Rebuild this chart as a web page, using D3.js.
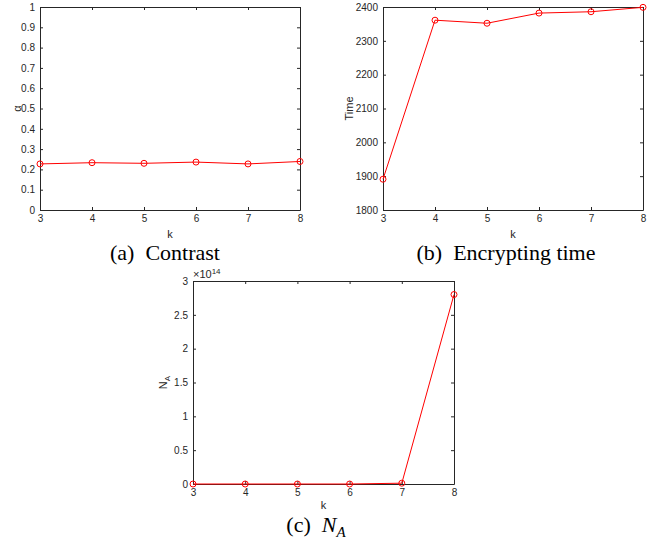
<!DOCTYPE html>
<html>
<head>
<meta charset="utf-8">
<script src="https://cdn.jsdelivr.net/npm/d3@7"></script>
<style>
  body { margin: 0; background: #fff; }
  .tick text { font-family: "Liberation Sans", Arial, sans-serif; font-size: 10px; fill: #262626; }
  .caption { font-family: "Liberation Serif", "Times New Roman", serif; font-size: 22px; fill: #000; }
  .alabel { font-family: "Liberation Sans", Arial, sans-serif; font-size: 11px; fill: #262626; }
</style>
</head>
<body>
<svg id="chart" width="670" height="546"></svg>
<script>
// data
const kValues = [3, 4, 5, 6, 7, 8];
const contrast = [0.227, 0.233, 0.230, 0.236, 0.227, 0.239];
const encTime = [1891, 2361, 2352, 2382, 2386, 2399];
const numA = [0, 0, 0, 0, 0.012, 2.80]; // x 10^14

const contrastTicks = [0, 0.1, 0.2, 0.3, 0.4, 0.5, 0.6, 0.7, 0.8, 0.9, 1];
const timeTicks = [1800, 1900, 2000, 2100, 2200, 2300, 2400];
const numATicks = [0, 0.5, 1, 1.5, 2, 2.5, 3];

const svg = d3.select("#chart");
const axisColor = "#262626";

function drawPanel(p) {
  const x = d3.scaleLinear().domain([3, 8]).range([p.left, p.right]);
  const y = d3.scaleLinear().domain(p.yDomain).range([p.bottom, p.top]);
  const g = svg.append("g");

  // box with inward ticks on all four sides
  g.append("g")
      .attr("transform", "translate(0," + p.bottom + ")")
      .call(d3.axisBottom(x).tickValues(kValues).tickSize(-3).tickSizeOuter(0).tickPadding(5).tickFormat(d3.format("d")));
  g.append("g")
      .attr("transform", "translate(0," + p.top + ")")
      .call(d3.axisTop(x).tickValues(kValues).tickSize(-3).tickSizeOuter(0).tickFormat(""));
  g.append("g")
      .attr("transform", "translate(" + p.left + ",0)")
      .call(d3.axisLeft(y).tickValues(p.yTicks).tickSize(-3).tickSizeOuter(0).tickPadding(5).tickFormat(p.fmt));
  g.append("g")
      .attr("transform", "translate(" + p.right + ",0)")
      .call(d3.axisRight(y).tickValues(p.yTicks).tickSize(-3).tickSizeOuter(0).tickFormat(""));
  g.selectAll(".domain, .tick line").attr("stroke", axisColor);

  const pts = kValues.map((k, i) => [k, p.values[i]]);
  g.append("path")
      .datum(pts)
      .attr("fill", "none")
      .attr("stroke", "#ff0000")
      .attr("stroke-width", 1)
      .attr("d", d3.line().x(d => x(d[0])).y(d => y(d[1])));
  g.selectAll("circle")
    .data(pts)
    .join("circle")
      .attr("cx", d => x(d[0]))
      .attr("cy", d => y(d[1]))
      .attr("r", 3)
      .attr("fill", "none")
      .attr("stroke", "#ff0000")
      .attr("stroke-width", 1);

  // x label
  g.append("text")
      .attr("class", "alabel")
      .attr("x", (p.left + p.right) / 2)
      .attr("y", p.bottom + p.kOffset)
      .attr("text-anchor", "middle")
      .text("k");

  // y label
  const yl = g.append("text")
      .attr("class", "alabel")
      .attr("transform", "translate(" + p.ylabelX + "," + (p.top + p.bottom) / 2 + ") rotate(-90)")
      .attr("text-anchor", "middle");
  p.ylabel(yl);

  g.append("text")
      .attr("class", "caption")
      .attr("x", p.capX)
      .attr("y", p.capY)
      .attr("text-anchor", "middle")
      .call(p.caption);
  return g;
}

drawPanel({
  left: 40, right: 300, top: 7, bottom: 210,
  yDomain: [0, 1], yTicks: contrastTicks, values: contrast,
  fmt: d => d === 0 || d === 1 ? d : d.toFixed(1),
  ylabelX: 21, kOffset: 28,
  ylabel: t => t.text("\u03b1"),
  capX: 165, capY: 260,
  caption: t => t.text("(a)\u00a0 Contrast")
});

drawPanel({
  left: 383, right: 643, top: 7, bottom: 210,
  yDomain: [1800, 2400], yTicks: timeTicks, values: encTime,
  fmt: d3.format("d"),
  ylabelX: 353, kOffset: 28,
  ylabel: t => t.text("Time"),
  capX: 506, capY: 260,
  caption: t => t.text("(b)\u00a0 Encrypting time")
});

const pc = drawPanel({
  left: 193, right: 454, top: 281, bottom: 484,
  yDomain: [0, 3], yTicks: numATicks, values: numA,
  fmt: d => d,
  ylabelX: 167, kOffset: 25,
  ylabel: t => {
    t.append("tspan").text("N");
    t.append("tspan").attr("font-size", "8px").attr("dy", 3).text("A");
  },
  capX: 316, capY: 532,
  caption: t => {
    t.append("tspan").text("(c)\u00a0 ");
    t.append("tspan").attr("font-style", "italic").text("N");
    t.append("tspan").attr("font-style", "italic").attr("font-size", "15px").attr("dy", 5).text("A");
  }
});

// exponent marker for panel c
const ex = pc.append("text")
    .attr("class", "alabel")
    .attr("x", 193)
    .attr("y", 278)
    .attr("font-size", "10px");
ex.append("tspan").text("\u00d710");
ex.append("tspan").attr("font-size", "8px").attr("dy", -4).text("14");
</script>
</body>
</html>
